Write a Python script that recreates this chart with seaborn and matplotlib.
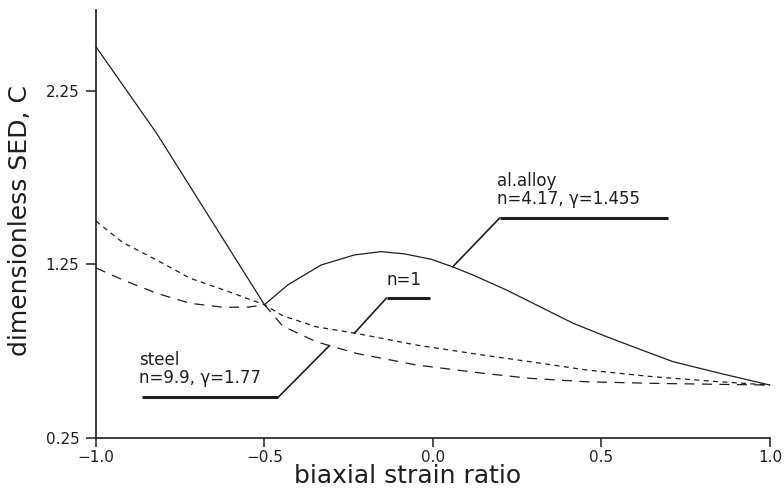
import numpy as np
import pandas as pd
import matplotlib
matplotlib.use("Agg")
import matplotlib.pyplot as plt
import seaborn as sns

# ---- data ----
ratio_alloy = [-1.0, -0.82, -0.5, -0.431, -0.332, -0.233, -0.154, -0.084, -0.005,
               0.059, 0.119, 0.218, 0.317, 0.416, 0.515, 0.614, 0.712, 0.851, 1.0]
c_alloy = [2.505, 2.006, 1.018, 1.132, 1.247, 1.305, 1.324, 1.311, 1.280,
           1.236, 1.189, 1.103, 1.007, 0.911, 0.834, 0.761, 0.69, 0.623, 0.555]

ratio_n1 = [-1.0, -0.92, -0.82, -0.72, -0.62, -0.5, -0.446, -0.347, -0.228, -0.05,
            0.148, 0.287, 0.455, 0.653, 0.851, 1.0]
c_n1 = [1.50, 1.376, 1.276, 1.17, 1.103, 1.018, 0.955, 0.891, 0.853, 0.786,
        0.728, 0.69, 0.642, 0.603, 0.574, 0.555]

ratio_steel = [-1.0, -0.92, -0.82, -0.72, -0.62, -0.545, -0.5, -0.446, -0.347, -0.228,
               -0.05, 0.148, 0.287, 0.455, 0.653, 0.851, 1.0]
c_steel = [1.23, 1.161, 1.084, 1.026, 1.003, 1.005, 1.018, 0.895, 0.805, 0.738,
           0.671, 0.623, 0.594, 0.574, 0.565, 0.559, 0.555]

curve_names = ["al.alloy", "n=1", "steel"]
x_ticks = [-1.0, -0.5, 0.0, 0.5, 1.0]
x_tick_labels = ["\u22121.0", "\u22120.5", "0.0", "0.5", "1.0"]
y_ticks = [0.25, 1.25, 2.25]
y_tick_labels = ["0.25", "1.25", "2.25"]

# ---- style ----
INK = "#1e1e1e"
sns.set_theme(style="ticks")
plt.rcParams["font.family"] = ["DejaVu Sans"]
plt.rcParams["text.color"] = INK
plt.rcParams["axes.labelcolor"] = INK

df = pd.concat([
    pd.DataFrame({"ratio": ratio_alloy, "C": c_alloy, "curve": curve_names[0]}),
    pd.DataFrame({"ratio": ratio_n1, "C": c_n1, "curve": curve_names[1]}),
    pd.DataFrame({"ratio": ratio_steel, "C": c_steel, "curve": curve_names[2]}),
], ignore_index=True)

fig = plt.figure(figsize=(7.84, 4.93), dpi=100)
ax = fig.add_axes([0.1224, 0.1116, 0.8597, 0.8682])

sns.lineplot(data=df, x="ratio", y="C", style="curve",
             dashes={"al.alloy": "", "n=1": (4, 3.5), "steel": (8, 6)},
             color=INK, linewidth=0.9, legend=False, ax=ax,
             estimator=None, sort=False)
for ln in ax.lines:
    ln.set_clip_on(False)
    ln.set_solid_joinstyle("round")

ax.set_xlim(-1.0, 1.0)
ax.set_ylim(0.25, 2.717)
ax.set_xticks(x_ticks, x_tick_labels)
ax.set_yticks(y_ticks, y_tick_labels)
ax.tick_params(axis="x", direction="out", length=6.5, width=1.1, pad=2,
               labelsize=11, colors=INK)
ax.tick_params(axis="y", direction="out", length=7, width=1.1, pad=5,
               labelsize=11, colors=INK)
sns.despine(ax=ax)
for s in ("left", "bottom"):
    ax.spines[s].set_linewidth(1.2)
    ax.spines[s].set_color(INK)

ax.set_xlabel("biaxial strain ratio", fontsize=18, va="baseline")
ax.xaxis.set_label_coords(0.463, -0.105)
ax.set_ylabel("dimensionless SED, C", fontsize=18, va="baseline")
ax.yaxis.set_label_coords(-0.102, 0.509)

# ---- annotations with leader lines ----
def leader(xh0, xh1, yh, xend, xs, ys):
    yend = float(np.interp(xend, xs, ys))
    ax.plot([xh0, xh1], [yh, yh], color=INK, lw=2.2, solid_capstyle="butt")
    ax.plot([xh1, xend], [yh, yend], color=INK, lw=1.2)

leader(-0.8625, -0.4586, 0.486, -0.307, ratio_steel, c_steel)
leader(-0.01, -0.1378, 1.057, -0.233, ratio_n1, c_n1)
leader(0.697, 0.198, 1.518, 0.0585, ratio_alloy, c_alloy)

tkw = dict(fontsize=12, va="baseline", ha="left", color=INK, linespacing=1.0)
ax.text(-0.871, 0.567, "steel\nn=9.9, \u03b3=1.77", **tkw)
ax.text(-0.1376, 1.132, "n=1", **tkw)
ax.text(0.189, 1.597, "al.alloy\nn=4.17, \u03b3=1.455", **tkw)

fig.savefig("out.png", dpi=100)
